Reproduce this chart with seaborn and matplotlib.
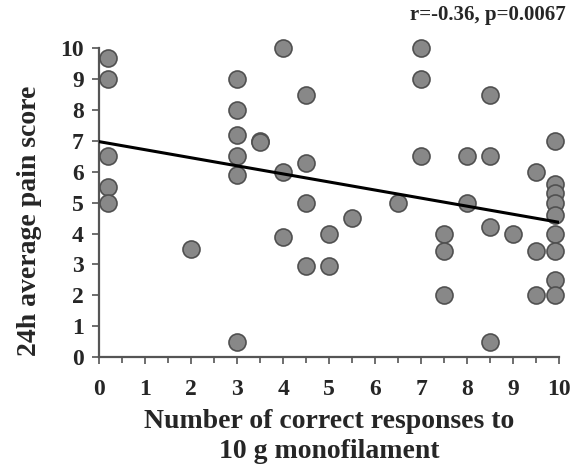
import numpy as np
import pandas as pd
import seaborn as sns
import matplotlib.pyplot as plt
from matplotlib.ticker import MultipleLocator

# correct responses (0-10) vs 24h average pain score
responses = [0.2, 0.2, 0.2, 0.2, 0.2,
             2,
             3, 3, 3, 3, 3, 3,
             3.5, 3.5,
             4, 4, 4,
             4.5, 4.5, 4.5, 4.5,
             5, 5,
             5.5,
             6.5,
             7, 7, 7,
             7.5, 7.5, 7.5,
             8, 8,
             8.5, 8.5, 8.5, 8.5,
             9,
             9.5, 9.5, 9.5,
             9.9, 9.9, 9.9, 9.9, 9.9, 9.9, 9.9, 9.9, 9.9]
pain = [9.7, 9.0, 6.5, 5.5, 5.0,
        3.5,
        9.0, 8.0, 7.2, 6.5, 5.9, 0.5,
        7.0, 6.95,
        10.0, 6.0, 3.9,
        8.5, 6.3, 5.0, 2.95,
        4.0, 2.95,
        4.5,
        5.0,
        10.0, 9.0, 6.5,
        4.0, 3.45, 2.0,
        6.5, 5.0,
        8.5, 6.5, 4.2, 0.5,
        4.0,
        6.0, 3.45, 2.0,
        7.0, 5.6, 5.3, 5.0, 4.6, 4.0, 3.45, 2.5, 2.0]

df = pd.DataFrame({'responses': responses, 'pain': pain})

sns.set_style('ticks')
plt.rcParams['font.family'] = ['Liberation Serif', 'DejaVu Serif']
plt.rcParams['font.weight'] = 'bold'

fig = plt.figure(figsize=(5.73, 4.73), dpi=100)
ax = fig.add_axes([0.173, 0.245, 0.803, 0.653])
ax.set_xlim(0, 10)
ax.set_ylim(0, 10)

sns.regplot(data=df, x='responses', y='pain', ax=ax, ci=None, truncate=False,
            scatter_kws=dict(s=150, color='#888888', edgecolor='#505050',
                             linewidths=1.2, alpha=1, clip_on=False, zorder=3),
            line_kws=dict(color='black', lw=2.2, zorder=4))

ax.set_xlim(0, 10)
ax.set_ylim(0, 10)
ax.xaxis.set_major_locator(MultipleLocator(1))
ax.xaxis.set_minor_locator(MultipleLocator(0.5))
ax.yaxis.set_major_locator(MultipleLocator(1))
sns.despine(ax=ax)
for s in ['left', 'bottom']:
    ax.spines[s].set_color('#555555')
    ax.spines[s].set_linewidth(1.6)
ax.tick_params(axis='both', which='both', color='#555555', width=1.2, length=5,
               labelsize=17)
ax.tick_params(axis='x', which='both', pad=11)
ax.tick_params(axis='y', pad=6)
ax.tick_params(axis='x', which='minor', length=4)
for lab in ax.get_xticklabels() + ax.get_yticklabels():
    lab.set_fontweight('bold')

ax.set_xlabel('Number of correct responses to\n10 g monofilament', fontsize=20,
              fontweight='bold', linespacing=1.3, labelpad=6)
ax.set_ylabel('24h average pain score', fontsize=20, fontweight='bold')
ax.yaxis.set_label_coords(-0.125, 0.44)
fig.text(0.987, 0.968, 'r=-0.36, p=0.0067', ha='right', va='center',
         fontsize=15, fontweight='bold')

fig.savefig('out.png', dpi=100)
